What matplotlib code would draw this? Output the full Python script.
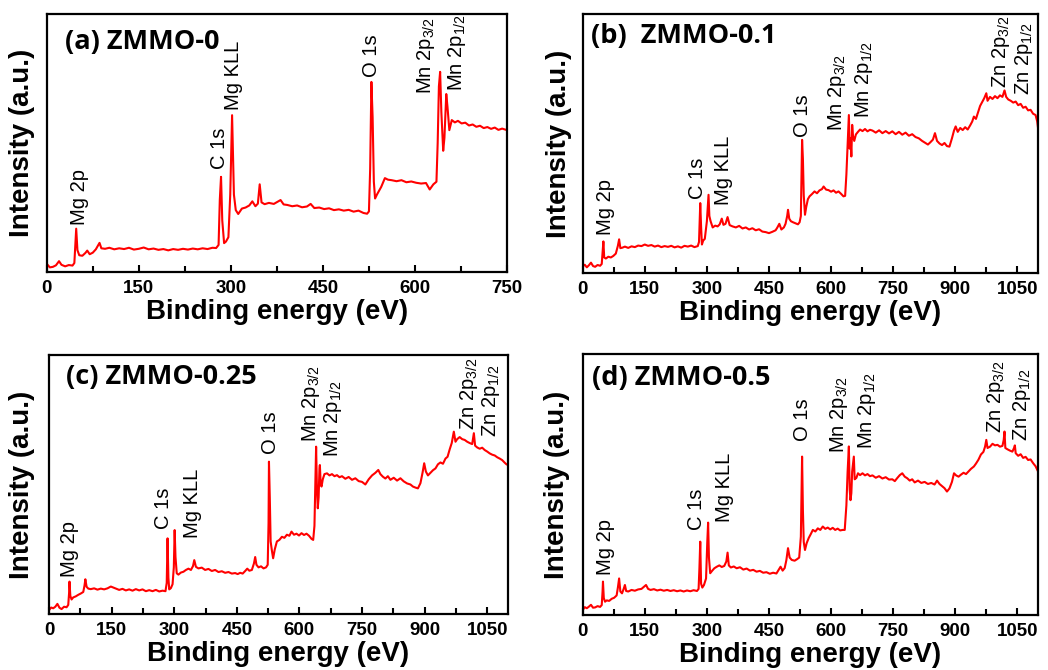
import matplotlib
matplotlib.use("Agg")
import matplotlib.pyplot as plt
from matplotlib.ticker import MultipleLocator

# --- spectra (binding energy in eV, intensity in % of the frame height) ---
energy_a = [0, 5, 10, 15, 20, 24, 30, 36, 42, 45, 47, 48, 50, 53, 58, 63, 66, 70, 75, 80, 84, 86, 89, 95,
            102, 110, 118, 126, 134, 142, 150, 158, 166, 174, 182, 190, 198, 206, 214, 222, 230, 238, 246,
            254, 262, 270, 276, 280, 282, 284, 286, 289, 292, 296, 299, 302, 305, 308, 312, 318, 324, 330,
            335, 340, 344, 347, 350, 355, 362, 370, 376, 381, 386, 392, 400, 408, 416, 424, 430, 436, 444,
            452, 460, 468, 476, 484, 492, 500, 508, 516, 522, 525, 527, 529, 531, 533, 535, 538, 545, 551,
            556, 562, 570, 578, 586, 594, 602, 610, 618, 624, 630, 635, 637, 639, 641, 643, 646, 648, 651,
            653, 656, 660, 665, 670, 676, 682, 688, 694, 700, 706, 712, 718, 724, 730, 736, 742, 750]
counts_a = [3.2, 1.8, 2.0, 2.6, 4.2, 2.8, 2.2, 2.7, 2.5, 3.5, 12, 16.8, 8.5, 6.5, 6.3, 7.4, 8.3, 6.9, 7.5,
            8.8, 10.5, 11.3, 9.2, 9.0, 9.4, 8.8, 9.2, 8.9, 9.4, 8.7, 9.0, 9.5, 8.8, 9.1, 8.6, 8.9, 8.4, 8.9,
            8.6, 9.0, 8.7, 9.1, 8.8, 9.2, 8.9, 9.4, 9.3, 10.5, 28, 36.9, 20, 11.2, 11.8, 13.5, 30, 60.8, 30,
            24, 22.5, 24.6, 25.0, 25.8, 27.4, 25.5, 26.5, 34.0, 27.0, 26.3, 26.8, 26.4, 27.2, 27.9, 26.2,
            26.0, 25.5, 25.8, 25.1, 25.4, 26.4, 24.8, 25.0, 24.4, 24.7, 24.0, 24.3, 23.8, 24.1, 23.4, 23.8,
            22.9, 22.6, 23.5, 40, 73.7, 60, 35, 28.5, 30, 33, 36.4, 35.8, 35.6, 35.2, 35.6, 34.8, 35.1, 34.6,
            34.3, 34.5, 32.0, 34.0, 35.0, 50, 72, 77.6, 62, 47.0, 52, 69, 64, 55, 58.9, 58.0, 58.6, 57.6,
            57.9, 56.8, 57.2, 56.3, 56.7, 55.8, 56.2, 55.5, 56.0, 55.1, 55.6, 55.0]

energy_b = [0, 5, 10, 15, 20, 25, 30, 36, 42, 46, 48, 50, 52, 56, 62, 68, 74, 80, 85, 88, 91, 96, 102, 110,
            118, 126, 134, 142, 150, 158, 166, 174, 182, 190, 198, 206, 214, 222, 230, 238, 246, 254, 262,
            270, 278, 281, 284, 286, 288, 291, 295, 300, 302, 304, 306, 309, 314, 320, 326, 331, 336, 340,
            345, 350, 355, 362, 370, 378, 386, 394, 402, 410, 418, 426, 434, 442, 450, 458, 466, 470, 475,
            480, 486, 490, 494, 496, 499, 503, 508, 514, 520, 524, 527, 529, 530, 532, 534, 537, 540, 544,
            548, 554, 560, 566, 572, 578, 582, 588, 594, 600, 606, 612, 618, 624, 630, 634, 637, 640, 643,
            645, 647, 649, 651, 653, 656, 660, 665, 670, 676, 682, 688, 694, 700, 708, 716, 724, 732, 740,
            748, 756, 764, 772, 780, 788, 796, 804, 812, 820, 828, 834, 840, 846, 851, 856, 862, 868, 874,
            880, 886, 892, 897, 901, 906, 912, 918, 924, 930, 936, 941, 945, 950, 955, 960, 965, 970, 975,
            978, 984, 990, 996, 1002, 1008, 1014, 1019, 1023, 1028, 1034, 1040, 1046, 1052, 1058, 1064,
            1070, 1076, 1082, 1088, 1094, 1098, 1100]
counts_b = [2.6, 3.2, 2.2, 3.0, 4.0, 2.7, 2.4, 3.1, 2.8, 3.5, 8, 12.2, 6.0, 5.6, 6.3, 6.0, 6.6, 7.5, 10.5,
            13.0, 9.6, 9.8, 10.2, 9.7, 10.3, 10.0, 10.6, 10.4, 11.0, 10.5, 10.8, 10.2, 10.6, 10.0, 10.4,
            10.1, 10.5, 9.9, 10.3, 9.8, 10.5, 10.2, 10.6, 10.0, 10.4, 12, 27.0, 18, 11.0, 12.5, 13.2, 20, 25,
            30.2, 22, 20.0, 17.6, 18.3, 18.0, 18.8, 21.0, 18.6, 19.0, 21.6, 18.5, 18.0, 17.6, 18.2, 17.2,
            17.6, 16.8, 17.3, 16.5, 16.9, 16.0, 15.8, 15.4, 15.9, 16.5, 17.5, 19.0, 16.8, 17.6, 19.0, 22.0,
            24.4, 21.0, 20.0, 19.6, 19.2, 18.8, 19.6, 22, 40, 51.4, 44, 30, 22.5, 25.5, 28.5, 29.6, 30.5,
            31.5, 30.8, 31.9, 32.4, 33.4, 32.2, 32.0, 31.4, 31.9, 31.0, 31.5, 30.6, 29.6, 29.8, 38, 50, 61,
            48, 52, 45, 57.2, 53, 51, 53.5, 54.5, 55.4, 54.8, 55.6, 54.7, 55.3, 55.0, 54.2, 55.1, 54.0,
            54.8, 53.9, 54.7, 53.6, 54.5, 53.4, 54.2, 53.0, 53.6, 52.5, 52.0, 51.0, 50.2, 49.6, 50.5, 51.5,
            54.0, 51.0, 50.0, 49.4, 50.2, 49.0, 48.8, 52.0, 55.0, 56.6, 54.5, 56.0, 55.2, 56.3, 55.4, 57.0,
            58.5, 60.4, 59.5, 62.0, 64.5, 66.0, 67.5, 69.4, 66.5, 68.0, 67.2, 68.3, 67.5, 68.6, 68.0, 70.5,
            68.0, 67.0, 66.5, 65.8, 66.2, 64.8, 65.3, 63.8, 64.2, 62.8, 63.0, 61.5, 61.0, 58.5, 56.0]

energy_c = [0, 5, 10, 15, 20, 25, 30, 36, 42, 46, 48, 49, 51, 54, 58, 64, 70, 76, 82, 85, 87, 90, 94, 100,
            108, 116, 124, 132, 140, 148, 154, 160, 168, 176, 184, 192, 200, 208, 216, 224, 232, 240, 248,
            256, 264, 272, 279, 282, 284, 286, 288, 292, 296, 299, 301, 303, 306, 310, 316, 322, 328, 334,
            340, 345, 348, 352, 358, 366, 374, 382, 390, 398, 406, 414, 422, 430, 438, 446, 452, 458, 464,
            470, 475, 480, 486, 491, 494, 497, 502, 508, 514, 520, 524, 526, 527, 529, 531, 534, 537, 541,
            546, 552, 558, 564, 570, 576, 581, 587, 593, 599, 605, 611, 617, 623, 629, 633, 636, 638, 640,
            642, 644, 646, 648, 649, 651, 653, 656, 660, 666, 672, 678, 684, 690, 696, 702, 710, 718, 726,
            734, 742, 750, 758, 766, 774, 782, 789, 794, 800, 806, 812, 818, 826, 834, 842, 850, 858, 866,
            872, 878, 884, 890, 895, 899, 903, 908, 914, 920, 926, 932, 938, 944, 950, 955, 960, 965, 970,
            974, 978, 984, 990, 996, 1002, 1008, 1014, 1018, 1021, 1026, 1032, 1038, 1044, 1050, 1056,
            1062, 1068, 1074, 1080, 1086, 1092, 1096, 1100]
counts_c = [1.5, 2.5, 2.2, 2.8, 3.9, 2.4, 1.9, 2.8, 2.6, 3.5, 8, 12.5, 7, 5.6, 6.4, 6.8, 7.4, 7.9, 8.5, 11,
            13.4, 10.5, 9.8, 9.6, 9.9, 9.4, 9.8, 9.5, 9.9, 10.6, 10.2, 9.8, 9.3, 9.7, 9.1, 9.5, 9.0, 9.6,
            9.1, 9.5, 8.8, 9.2, 8.8, 9.3, 8.7, 9.0, 8.8, 12, 29.2, 14, 9.5, 10.0, 11.5, 18, 32.4, 22, 15.7,
            15.2, 16.0, 16.3, 17.0, 17.5, 17.0, 18.5, 20.8, 18.2, 17.6, 17.9, 17.0, 17.4, 16.6, 17.0, 16.2,
            16.5, 15.9, 16.2, 15.6, 15.8, 15.4, 15.9, 15.6, 16.6, 17.5, 16.7, 17.0, 19.5, 22.0, 19.0, 18.0,
            18.4, 17.6, 18.0, 19.0, 35, 58.8, 45, 28, 24.5, 21.5, 25.0, 28.0, 28.6, 29.8, 29.4, 30.6, 30.2,
            31.8, 30.6, 31.0, 30.3, 31.2, 30.5, 31.0, 30.2, 29.0, 28.6, 34, 50, 64.6, 48, 40.8, 45, 56,
            57.5, 50, 49.2, 52.0, 54.0, 54.3, 53.5, 54.0, 53.2, 53.6, 52.8, 53.2, 52.2, 52.9, 51.8, 52.4,
            51.3, 51.0, 50.0, 52.0, 53.5, 54.5, 55.6, 54.0, 53.0, 52.3, 53.2, 51.8, 52.6, 51.5, 52.4, 51.2,
            50.4, 50.0, 49.2, 48.8, 48.5, 50.5, 54.5, 58.2, 55.0, 53.5, 54.5, 55.5, 56.2, 57.8, 58.5, 58.0,
            60.0, 60.7, 63.5, 66.0, 70.4, 66.5, 67.5, 68.3, 67.5, 67.2, 66.5, 66.0, 65.6, 69.8, 65.0, 64.3,
            63.8, 64.2, 63.3, 62.7, 62.0, 61.5, 61.2, 60.5, 60.0, 59.4, 58.4, 57.8, 57.5]

energy_d = [0, 5, 10, 15, 20, 25, 30, 36, 42, 46, 48, 49, 51, 54, 58, 64, 70, 76, 82, 85, 88, 91, 95, 99,
            102, 105, 110, 118, 126, 134, 142, 148, 153, 158, 164, 172, 180, 188, 196, 204, 212, 220, 228,
            236, 244, 252, 260, 268, 276, 280, 282, 284, 286, 289, 293, 298, 301, 303, 305, 308, 313, 318,
            324, 330, 336, 342, 347, 350, 353, 358, 365, 372, 380, 388, 396, 404, 412, 420, 428, 436, 444,
            452, 460, 468, 474, 478, 483, 488, 492, 496, 500, 505, 512, 518, 523, 527, 529, 530, 532, 534,
            537, 541, 546, 551, 556, 562, 568, 574, 580, 586, 592, 598, 604, 610, 616, 622, 628, 633, 637,
            640, 643, 645, 647, 649, 651, 655, 657, 661, 665, 670, 676, 682, 688, 694, 700, 708, 716, 724,
            732, 740, 748, 754, 760, 766, 772, 778, 784, 790, 796, 802, 810, 818, 826, 834, 842, 850, 856,
            862, 868, 874, 880, 886, 892, 897, 902, 908, 914, 920, 926, 932, 938, 945, 950, 956, 962, 968,
            972, 975, 978, 984, 990, 996, 1002, 1008, 1014, 1017, 1019, 1021, 1026, 1032, 1038, 1042, 1044,
            1046, 1052, 1058, 1064, 1070, 1076, 1082, 1088, 1094, 1100]
counts_d = [1.9, 3.0, 2.6, 3.2, 3.9, 2.8, 2.9, 3.4, 3.1, 3.8, 9, 12.8, 6.5, 5.1, 5.6, 5.4, 6.2, 6.6, 7.5,
            10.5, 14.0, 9.0, 8.3, 10.0, 11.5, 9.2, 9.0, 9.6, 9.3, 9.8, 10.0, 10.8, 11.5, 10.0, 9.6, 9.9, 9.4,
            9.7, 9.3, 9.6, 9.2, 9.5, 9.1, 9.4, 9.0, 9.4, 9.1, 9.5, 9.2, 10, 18, 28.1, 12, 10.5, 11.5, 14, 28,
            35.4, 22, 16.0, 17.0, 17.9, 18.5, 19.0, 18.4, 18.8, 20.5, 23.9, 19.0, 18.2, 18.6, 17.9, 18.3,
            17.4, 17.8, 17.0, 17.3, 16.6, 16.9, 16.2, 16.4, 15.8, 16.2, 15.9, 17.5, 18.5, 17.0, 18.0, 21.0,
            25.6, 22.0, 21.1, 20.8, 21.4, 22.0, 30, 50, 60.7, 40, 28, 24.9, 27.5, 29.5, 31.0, 32.6, 32.0,
            33.2, 32.6, 33.9, 33.0, 33.5, 32.8, 33.4, 32.6, 33.1, 32.4, 32.6, 32.6, 42, 55, 64.6, 48, 44,
            46.7, 55, 60.7, 52, 52.5, 54.3, 53.6, 54.3, 53.5, 54.0, 53.2, 53.5, 52.6, 53.2, 52.3, 52.8,
            51.9, 52.0, 51.3, 52.5, 53.6, 54.3, 53.0, 52.4, 51.5, 52.0, 50.8, 51.5, 50.6, 51.0, 50.2, 50.6,
            50.0, 51.5, 50.2, 49.4, 48.6, 47.3, 48.5, 51.0, 54.3, 53.5, 53.0, 53.8, 54.5, 54.0, 55.0, 56.0,
            56.9, 58.0, 59.5, 61.5, 62.5, 64.5, 67.1, 64.0, 64.5, 65.6, 65.0, 65.2, 64.5, 64.8, 67.0, 70.3,
            64.0, 63.5, 63.0, 62.6, 64.0, 65.0, 62.0, 61.0, 61.6, 60.2, 60.6, 59.4, 59.6, 58.2, 57.0, 55.0]

titles = ['(a) ZMMO-0', '(b)  ZMMO-0.1', '(c) ZMMO-0.25', '(d) ZMMO-0.5']

peak_names_a = ['Mg 2p', 'C 1s', 'Mg KLL', 'O 1s',
                r'Mn 2p$_\mathregular{3/2}$', r'Mn 2p$_\mathregular{1/2}$']
peak_names = ['Mg 2p', 'C 1s', 'Mg KLL', 'O 1s',
              r'Mn 2p$_\mathregular{3/2}$', r'Mn 2p$_\mathregular{1/2}$',
              r'Zn 2p$_\mathregular{3/2}$', r'Zn 2p$_\mathregular{1/2}$']
# where each peak label sits (energy, intensity at the bottom of the rotated text)
label_x_a = [53, 282, 304, 529, 618, 668]
label_y_a = [18.1, 40, 62.7, 75.7, 69, 70]
label_x_b = [54, 277, 340, 532, 614, 679, 1010, 1066]
label_y_b = [14.8, 28.5, 26.3, 52.7, 55, 59.8, 71.3, 68.8]
label_x_c = [50, 275, 343, 530, 628, 680, 1006, 1058]
label_y_c = [14.4, 33, 29.2, 61.8, 66.5, 60.7, 71, 68.5]
label_x_d = [54, 274, 342, 532, 619, 687, 998, 1062]
label_y_d = [15.3, 32.6, 35.8, 66.5, 62, 63.6, 69.7, 66.5]

plt.rcParams['font.family'] = ['Liberation Sans', 'DejaVu Sans']
plt.rcParams['mathtext.fontset'] = 'custom'
plt.rcParams['mathtext.rm'] = 'Liberation Sans'

fig = plt.figure(figsize=(10.48, 6.70), dpi=100)

panels = [
    ([0.0446, 0.594, 0.4392, 0.385], energy_a, counts_a, 750, peak_names_a, label_x_a, label_y_a, (0.040, 0.893), -0.025),
    ([0.556, 0.5925, 0.4345, 0.3866], energy_b, counts_b, 1100, peak_names, label_x_b, label_y_b, (0.018, 0.916), -0.024),
    ([0.0468, 0.0836, 0.438, 0.3866], energy_c, counts_c, 1100, peak_names, label_x_c, label_y_c, (0.036, 0.916), -0.030),
    ([0.556, 0.0821, 0.4345, 0.3895], energy_d, counts_d, 1100, peak_names, label_x_d, label_y_d, (0.020, 0.907), -0.028),
]

for (rect, xs, ys, xmax, names, lx, ly, tpos, ylab_x), title in zip(panels, titles):
    ax = fig.add_axes(rect)
    ax.plot(xs, ys, color='#ff0000', lw=1.5)
    ax.set_xlim(0, xmax)
    ax.set_ylim(0, 100)
    ax.set_yticks([])
    ax.xaxis.set_major_locator(MultipleLocator(150))
    ax.xaxis.set_minor_locator(MultipleLocator(75))
    ax.tick_params(axis='x', which='both', direction='in', top=False, width=1.5, pad=6)
    ax.tick_params(axis='x', which='major', length=5, labelsize=13.5)
    ax.tick_params(axis='x', which='minor', length=4)
    for lab in ax.get_xticklabels():
        lab.set_fontweight('bold')
    for sp in ax.spines.values():
        sp.set_linewidth(1.6)
    ax.set_xlabel('Binding energy (eV)', fontsize=20, fontweight='bold', labelpad=1)
    ax.set_ylabel('Intensity (a.u.)', fontsize=20, fontweight='bold')
    ax.yaxis.set_label_coords(ylab_x, 0.5)
    ax.text(tpos[0], tpos[1], title, transform=ax.transAxes, ha='left', va='center',
            fontsize=19.5, fontweight='bold', family=['Open Sans', 'DejaVu Sans'])
    for name, x, y in zip(names, lx, ly):
        ax.text(x, y, name, rotation=90, ha='center', va='bottom', fontsize=14.5)

fig.savefig('out.png', dpi=100)
